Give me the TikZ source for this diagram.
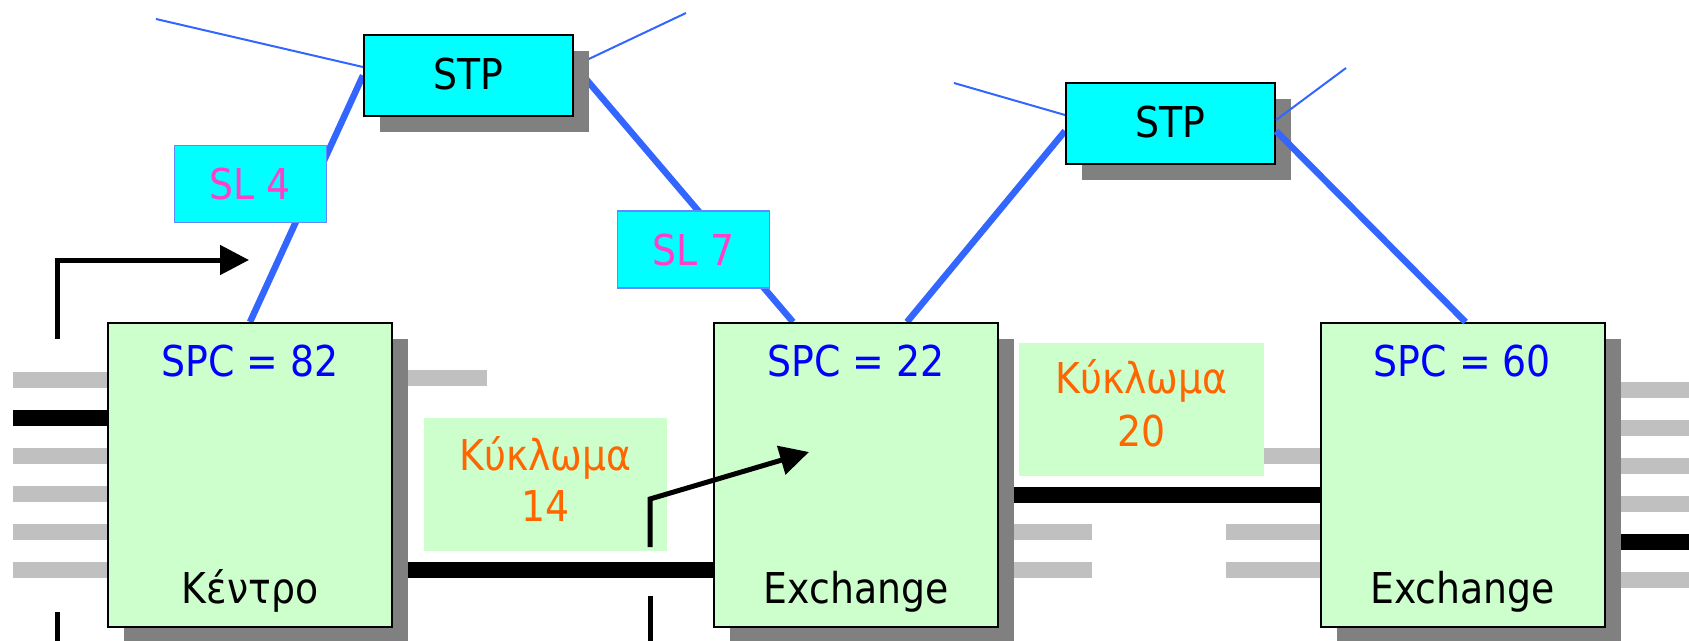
\documentclass[tikz,border=0pt]{standalone}
\usepackage{fontspec}
\setmainfont{DejaVu Sans}[FakeStretch=0.89]
\usetikzlibrary{calc,shadows,arrows.meta}
\definecolor{cyanbox}{HTML}{00FFFF}
\definecolor{greenbox}{HTML}{CCFFCC}
\definecolor{shadowgrey}{HTML}{808080}
\definecolor{stubgrey}{HTML}{C0C0C0}
\definecolor{linkblue}{HTML}{3366FF}
\definecolor{spcblue}{HTML}{0000FF}
\definecolor{circorange}{HTML}{FF6600}
\definecolor{slpink}{HTML}{FF3FC8}
\definecolor{slborder}{HTML}{6688FF}
\pgfdeclarelayer{bg}
\pgfsetlayers{bg,main}
\begin{document}
\begin{tikzpicture}[x=1pt,y=-1pt,
  font=\fontsize{42.5}{52}\selectfont,
  shadowed/.style={general shadow={fill=shadowgrey, shadow xshift=16pt, shadow yshift=-16pt}},
  exbox/.style={draw=black, line width=2pt, fill=greenbox, minimum width=284pt, minimum height=304pt, inner sep=0pt, shadowed},
  stpbox/.style={draw=black, line width=2pt, fill=cyanbox, minimum width=209pt, minimum height=81pt, inner sep=0pt, shadowed},
  slbox/.style={draw=slborder, line width=1.5pt, fill=cyanbox, minimum width=152pt, minimum height=77pt, inner sep=0pt},
  circbox/.style={fill=greenbox, inner sep=0pt},
  lbl/.style={anchor=base, inner sep=0pt},
  spclbl/.style={lbl, text=spcblue},
  circlbl/.style={lbl, text=circorange},
  sllbl/.style={lbl, text=slpink},
  thinlink/.style={draw=linkblue, line width=2pt},
  thicklink/.style={draw=linkblue, line width=6.5pt},
  greystub/.style={draw=stubgrey, line width=16pt},
  circuit/.style={draw=black, line width=16pt},
  flow/.style={draw=black, line width=5pt},
  flowarrow/.style={flow, -{Triangle[length=29pt,width=29pt]}}
]
\useasboundingbox (0,0) rectangle (1689,640);

% boxes
\node[exbox] (x82) at (250,475) {};
\node[exbox] (x22) at (856,475) {};
\node[exbox] (x60) at (1462.5,475) {};
\node[stpbox] (stp1) at (468.5,75.5) {};
\node[stpbox] (stp2) at (1170.5,123.5) {};
\node[circbox, minimum width=243pt, minimum height=133pt] (c14) at (545.5,484.5) {};
\node[circbox, minimum width=245pt, minimum height=133pt] (c20) at (1141.5,409.5) {};
\node[slbox] (sl4) at (250.5,184) {};
\node[slbox] (sl7) at (693.5,249.5) {};

% labels
\node[lbl] (tstp1) at (468.5,89) {STP};
\node[lbl] (tstp2) at (1170.5,137) {STP};
\node[sllbl] (tsl4) at (250.5,199) {SL 4};
\node[sllbl] (tsl7) at (693.5,265) {SL 7};
\node[spclbl] (t82) at (250,376) {SPC = 82};
\node[spclbl] (t22) at (856,376) {SPC = 22};
\node[spclbl] (t60) at (1462.5,376) {SPC = 60};
\node[lbl] (k82) at (250,603) {Κέντρο};
\node[lbl] (k22) at (856,603) {Exchange};
\node[lbl] (k60) at (1462.5,603) {Exchange};
\node[circlbl] (c14a) at (545.5,470) {Κύκλωμα};
\node[circlbl] (c14b) at (545.5,521) {14};
\node[circlbl] (c20a) at (1141.5,393) {Κύκλωμα};
\node[circlbl] (c20b) at (1141.5,446) {20};

% free ends
\coordinate (e1) at (156,19);
\coordinate (e2) at (686,13);
\coordinate (e3) at (954,83);
\coordinate (e4) at (1346,68);
\coordinate (a1s) at (57,339);
\coordinate (a1c) at (57,260);
\coordinate (a1t) at (249,260);
\coordinate (a1b) at (57,612);
\coordinate (a1e) at (57,645);
\coordinate (a2s) at (650,547);
\coordinate (a2c) at (650,499);
\coordinate (a2t) at (809,452);
\coordinate (a2b) at (650,596);
\coordinate (a2e) at (650,645);

\begin{pgfonlayer}{bg}
  % signalling links
  \draw[thinlink] (e1) -- ($(stp1.north west)+(0,33)$);
  \draw[thinlink] ($(stp1.north east)+(0,32)$) -- (e2);
  \draw[thicklink] (stp1.west) -- ($(x82.north west)+(143,0)$);
  \draw[thicklink] ($(stp1.north east)+(0,31)$) -- ($(x22.north west)+(80,0)$);
  \draw[thicklink] ($(stp2.north west)+(0,49)$) -- ($(x22.north west)+(194,0)$);
  \draw[thinlink] (e3) -- ($(stp2.north west)+(0,33)$);
  % trunk stubs
  \foreach \yy in {380,456,494,532,570} \draw[greystub] (x82.west |- 0,\yy) -- (13,\yy);
  \draw[circuit] (x82.west |- 0,418) -- (13,418);
  \draw[greystub] (x82.east |- 0,378) -- (487,378);
  \draw[circuit] (x82.east |- 0,570) -- (x22.west |- 0,570);
  \foreach \yy in {532,570} \draw[greystub] (x22.east |- 0,\yy) -- (1092,\yy);
  \draw[circuit] (x22.east |- 0,494.5) -- (x60.west |- 0,494.5);
  \foreach \yy in {532,570} \draw[greystub] (x60.west |- 0,\yy) -- (1226,\yy);
  \draw[greystub] (x60.west |- 0,456) -- (c20.east |- 0,456);
  \foreach \yy in {390,428,466,504,580} \draw[greystub] (x60.east |- 0,\yy) -- (1689,\yy);
  \draw[circuit] (x60.east |- 0,542) -- (1689,542);
  % message flow arrow 1
  \draw[flowarrow] (a1s) -- (a1c) -- (a1t);
  \draw[flow] (a1b) -- (a1e);
  \draw[flow] (a2b) -- (a2e);
\end{pgfonlayer}

% links drawn over the shadow of STP 2
\draw[thinlink] ($(stp2.north east)+(0,38)$) -- (e4);
\draw[thicklink] ($(stp2.north east)+(0,49)$) -- ($(x60.north west)+(146,0)$);
% message flow arrow 2
\draw[flowarrow] (a2s) -- (a2c) -- (a2t);
\end{tikzpicture}
\end{document}
